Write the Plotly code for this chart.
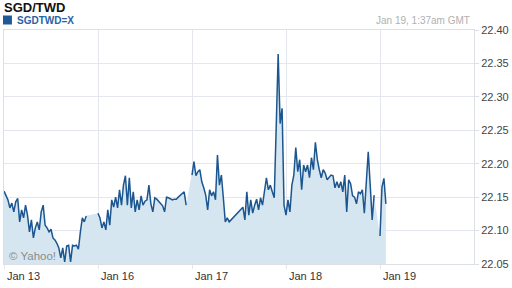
import plotly.graph_objects as go

# Time axis: hours on a trading-day axis (each labelled day = 24 h), 30-minute quotes
step_h = 0.5
seg_starts = [0.0, 24.0, 48.0, 61.0, 96.0]
seg1 = [22.159, 22.153, 22.146, 22.134, 22.141, 22.128, 22.143, 22.148, 22.113, 22.131,
        22.119, 22.138, 22.123, 22.098, 22.116, 22.089, 22.104, 22.113, 22.101, 22.128,
        22.138, 22.108, 22.104, 22.098, 22.102, 22.089, 22.086, 22.081, 22.074, 22.059,
        22.074, 22.053, 22.077, 22.078, 22.053, 22.078, 22.077, 22.078, 22.072, 22.098,
        22.119, 22.113, 22.122]
seg2 = [22.126, 22.119, 22.104, 22.113, 22.101, 22.131, 22.108, 22.146, 22.135, 22.150,
        22.134, 22.161, 22.138, 22.168, 22.182, 22.138, 22.179, 22.134, 22.158, 22.128,
        22.146, 22.131, 22.152, 22.138, 22.144, 22.146, 22.168, 22.140, 22.128, 22.149,
        22.147, 22.144, 22.141, 22.137, 22.128, 22.150, 22.149, 22.147, 22.146, 22.147,
        22.147, 22.150, 22.153, 22.156, 22.158, 22.138]
seg3 = [22.183, 22.203, 22.182, 22.188, 22.191, 22.173, 22.164, 22.153, 22.131, 22.161,
        22.152, 22.158, 22.146, 22.213, 22.168, 22.183, 22.149, 22.113, 22.119, 22.113]
seg4 = [22.135, 22.116, 22.158, 22.123, 22.146, 22.126, 22.138, 22.147, 22.131, 22.149,
        22.138, 22.158, 22.179, 22.161, 22.168, 22.158, 22.149, 22.255, 22.364, 22.260,
        22.283, 22.138, 22.123, 22.146, 22.128, 22.168, 22.183, 22.224, 22.188, 22.206,
        22.161, 22.198, 22.188, 22.198, 22.179, 22.209, 22.191, 22.232, 22.206, 22.191,
        22.179, 22.191, 22.186, 22.176, 22.179, 22.183, 22.182, 22.164, 22.173, 22.164,
        22.173, 22.158, 22.183, 22.128, 22.176, 22.170, 22.152, 22.150, 22.140, 22.158,
        22.155, 22.161, 22.126, 22.176, 22.218, 22.168, 22.116, 22.153]
seg5 = [22.092, 22.165, 22.178, 22.140]
segments = [seg1, seg2, seg3, seg4, seg5]
# whether the plotted line is broken after each segment (no quotes in between)
break_after = [True, True, False, True, False]

tick_pos = [0, 24, 48, 72, 96]
tick_labels = ["Jan 13", "Jan 16", "Jan 17", "Jan 18", "Jan 19"]
y_ticks = [22.05, 22.10, 22.15, 22.20, 22.25, 22.30, 22.35, 22.40]

line_x, line_y, fill_x, fill_y = [], [], [], []
for start, vals, brk in zip(seg_starts, segments, break_after):
    xs = [start + i * step_h for i in range(len(vals))]
    line_x += xs
    line_y += vals
    fill_x += xs
    fill_y += vals
    if brk:
        line_x.append(None)
        line_y.append(None)

LINE = "#1c5690"
FILL = "#d6e6f1"
GRID = "#e4e8ee"
FONT = "Liberation Sans, Arial, sans-serif"

fig = go.Figure()
fig.add_trace(go.Scatter(x=fill_x, y=fill_y, mode="lines", line=dict(width=0),
                         fill="tozeroy", fillcolor=FILL, hoverinfo="skip"))
fig.add_trace(go.Scatter(x=line_x, y=line_y, mode="lines",
                         line=dict(color=LINE, width=1.5), connectgaps=False,
                         hoverinfo="skip"))

fig.update_layout(
    width=512, height=288,
    margin=dict(l=3, r=36, t=30, b=24),
    paper_bgcolor="white", plot_bgcolor="white",
    showlegend=False,
    font=dict(family=FONT, size=11, color="#444"),
    xaxis=dict(range=[0, 120], tickvals=tick_pos, showticklabels=False,
               showgrid=True, gridcolor=GRID, gridwidth=1,
               ticks="outside", ticklen=4, tickcolor=GRID,
               showline=True, linecolor="#dcdfe4", mirror=True, zeroline=False,
               layer="above traces"),
    yaxis=dict(range=[22.05, 22.40], tickvals=y_ticks, tickformat=".2f",
               side="right", showgrid=True, gridcolor=GRID, gridwidth=1,
               ticks="outside", ticklen=4, tickcolor="#dcdfe4",
               showline=True, linecolor="#dcdfe4", mirror=True, zeroline=False,
               tickfont=dict(size=11, color="#444")),
)

# x tick labels, left-aligned on their gridlines
for p, lab in zip(tick_pos, tick_labels):
    fig.add_annotation(x=p, y=-12 / 234, xref="x", yref="paper", text=lab,
                       showarrow=False, xanchor="left", yanchor="middle", xshift=1,
                       font=dict(size=11, color="#333"))

def px_x(px):
    return (px - 3) / 473

def px_y(py):
    return (264 - py) / 234

fig.add_annotation(x=px_x(1), y=px_y(7.5), xref="paper", yref="paper", text="<b>SGD/TWD</b>",
                   showarrow=False, xanchor="left", yanchor="middle",
                   font=dict(size=13, color="#111"))
fig.add_shape(type="rect", xref="paper", yref="paper",
              x0=px_x(2), x1=px_x(11), y0=px_y(24.5), y1=px_y(15.5),
              fillcolor="#1f5a98", line=dict(width=0))
fig.add_annotation(x=px_x(14), y=px_y(20.5), xref="paper", yref="paper", text="<b>SGDTWD=X</b>",
                   showarrow=False, xanchor="left", yanchor="middle",
                   font=dict(size=10, color="#2a62a2"))
fig.add_annotation(x=px_x(474), y=px_y(20.5), xref="paper", yref="paper", text="Jan 19, 1:37am GMT",
                   showarrow=False, xanchor="right", yanchor="middle",
                   font=dict(size=10, color="#b0b0b0"))
fig.add_annotation(x=px_x(6), y=px_y(256), xref="paper", yref="paper", text="© Yahoo!",
                   showarrow=False, xanchor="left", yanchor="middle",
                   font=dict(size=11.5, color="#8c8c8c"))

fig.write_html("out.html")
